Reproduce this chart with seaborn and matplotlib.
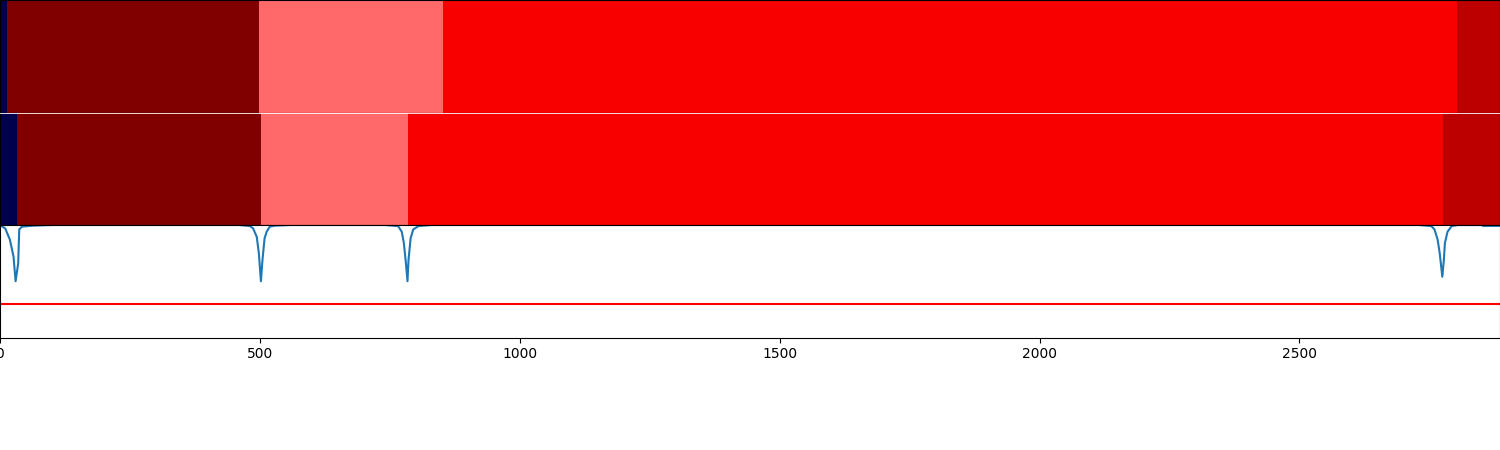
import numpy as np
import matplotlib
matplotlib.use("Agg")
import matplotlib.pyplot as plt
import seaborn as sns

# number of frames in the video
n_frames = 2886

# ground truth segments (class id, segment start frames)
gt_classes = [0, 17, 11, 13, 15]
gt_starts = [0, 14, 498, 852, 2803]

# predicted segments
pred_classes = [0, 17, 11, 13, 15]
pred_starts = [0, 33, 502, 785, 2776]

conf_frames = [0, 3, 10, 19, 26, 30, 35, 37, 42, 63, 100,
               460, 481, 487, 494, 498, 502, 505, 509, 513, 519, 529, 560,
               740, 766, 773, 777, 781, 784, 786, 790, 795, 805, 830,
               2730, 2754, 2760, 2766, 2770, 2775, 2778, 2780, 2785, 2793, 2805,
               2850, 2853, 2885]
conf_values = [0.99, 0.99, 0.97, 0.87, 0.72, 0.50, 0.66, 0.96, 0.985, 0.994, 1.0,
               1.0, 0.99, 0.97, 0.895, 0.75, 0.50, 0.69, 0.88, 0.94, 0.985, 0.994, 1.0,
               1.0, 0.99, 0.94, 0.84, 0.66, 0.50, 0.69, 0.88, 0.96, 0.99, 1.0,
               1.0, 0.99, 0.96, 0.87, 0.75, 0.54, 0.69, 0.84, 0.94, 0.99, 1.0,
               1.0, 0.992, 0.992]
threshold = 0.3


def frame_labels(classes, starts):
    lengths = np.diff(starts + [n_frames])
    return np.repeat(classes, lengths)


bars = [frame_labels(gt_classes, gt_starts),
        frame_labels(pred_classes, pred_starts)]

num_pics = len(bars) + 1
interval = 1 / (num_pics + 1)
fig = plt.figure(figsize=(15, num_pics * 1.5), dpi=100)

for i, lab in enumerate(bars, start=1):
    ax = fig.add_axes([0, 1 - i * interval, 1, interval])
    sns.heatmap(lab[np.newaxis, :], cmap="seismic", vmin=0, cbar=False,
                xticklabels=False, yticklabels=False, ax=ax)
    for s in ax.spines.values():
        s.set_visible(True)
        s.set_linewidth(0.8)
    if i > 1:
        # thin white seam under the previous bar
        ax.spines["top"].set_color("white")
        ax.spines["top"].set_linewidth(0.6)

ax4 = fig.add_axes([0, interval, 1, interval])
sns.lineplot(x=np.array(conf_frames), y=np.array(conf_values), ax=ax4,
             color="#1f77b4", linewidth=1.5)
sns.lineplot(x=np.array([0, n_frames - 1]), y=np.array([threshold, threshold]),
             ax=ax4, color="red", linewidth=1.5)
ax4.set_xlim(0, n_frames)
ax4.set_ylim(0, 1)
ax4.set_xlabel("")
ax4.set_ylabel("")
ax4.tick_params(axis="y", labelleft=False)

fig.savefig("out.png", dpi=100)
plt.close(fig)
